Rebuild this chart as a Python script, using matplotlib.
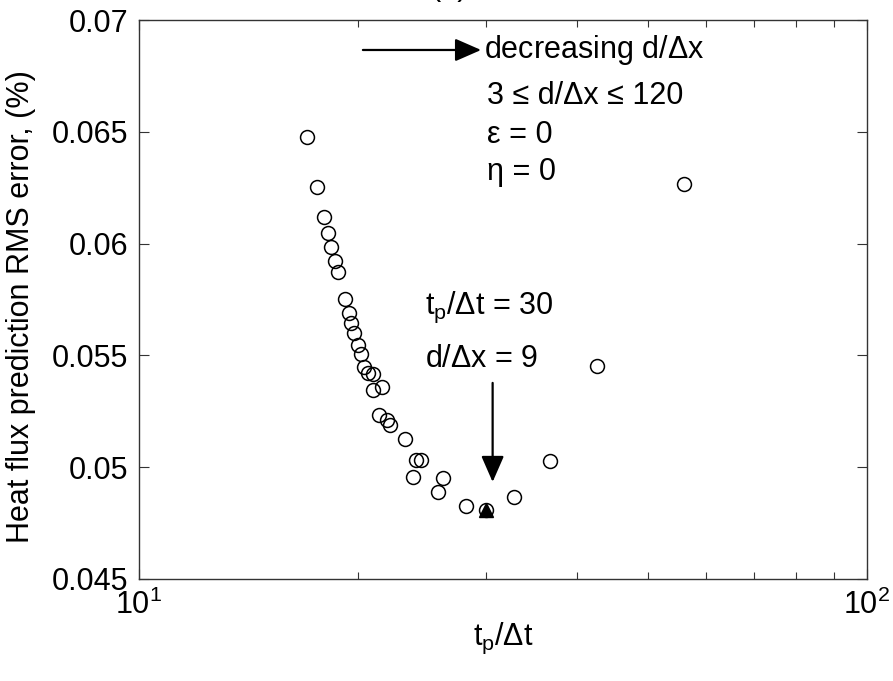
import matplotlib
matplotlib.use("Agg")
import matplotlib.pyplot as plt
from matplotlib.ticker import FixedLocator, FixedFormatter, LogLocator, NullFormatter

plt.rcParams['font.family'] = ['Liberation Sans', 'DejaVu Sans']
plt.rcParams['mathtext.fontset'] = 'custom'
plt.rcParams['mathtext.rm'] = 'Liberation Sans'
plt.rcParams['mathtext.it'] = 'Liberation Sans'
plt.rcParams['mathtext.default'] = 'regular'

# t_p/dt versus RMS error for each d/dx tested
tp_dt = [16.99, 17.58, 17.96, 18.19, 18.38, 18.57, 18.77, 19.17, 19.43, 19.57,
         19.74, 19.97, 20.18, 20.38, 20.65, 20.96, 21.57, 20.98, 21.38, 21.91,
         22.15, 23.20, 24.02, 24.38, 23.79, 26.18, 25.77, 28.16, 30.0, 32.79,
         36.73, 42.54, 56.11]
rms_err = [0.06479, 0.06255, 0.06118, 0.06046, 0.05986, 0.05922, 0.05872, 0.05754,
           0.05688, 0.05646, 0.05599, 0.05547, 0.05506, 0.05450, 0.05423, 0.05417,
           0.05360, 0.05345, 0.05234, 0.05211, 0.05187, 0.05128, 0.05032, 0.05032,
           0.04958, 0.04952, 0.04891, 0.04827, 0.04809, 0.04868, 0.05027, 0.05454,
           0.06265]

# optimum
best_tp = 30.0
best_err = 0.04809

yticks = [0.045, 0.05, 0.055, 0.06, 0.065, 0.07]
ytick_labels = ['0.045', '0.05', '0.055', '0.06', '0.065', '0.07']

FS = 22

fig = plt.figure(figsize=(8.93, 6.81), dpi=100)
ax = fig.add_axes([0.1557, 0.1498, 0.8152, 0.8208])

ax.plot(tp_dt, rms_err, 'o', mfc='none', mec='black', ms=10, mew=1.1)
ax.plot([best_tp], [best_err], '^', color='black', ms=10)

ax.set_xscale('log')
ax.set_xlim(10, 100)
ax.set_ylim(0.045, 0.07)
ax.yaxis.set_major_locator(FixedLocator(yticks))
ax.yaxis.set_major_formatter(FixedFormatter(ytick_labels))
ax.xaxis.set_minor_locator(LogLocator(base=10, subs=range(2, 10)))
ax.xaxis.set_minor_formatter(NullFormatter())

ax.tick_params(which='both', direction='in', top=True, right=True, labelsize=FS,
               color='#333333')
ax.tick_params(which='major', length=7, width=0.8, pad=8)
ax.tick_params(which='minor', length=5, width=0.8)
for s in ax.spines.values():
    s.set_linewidth(1.0)
    s.set_color('#333333')

ax.set_ylabel('Heat flux prediction RMS error, (%)', fontsize=FS)
ax.yaxis.set_label_coords(-0.142, 0.487)
ax.set_xlabel(r'$t_p/\Delta t$', fontsize=FS)
ax.xaxis.set_label_coords(0.5, -0.075)

arrow = dict(arrowstyle='-|>,head_length=1.6,head_width=0.7',
             color='black', lw=1.6, shrinkA=0, shrinkB=0)

# annotations
ax.annotate('', xy=(29.5, 0.06866), xytext=(20.3, 0.06866), arrowprops=arrow)
ax.text(29.8, 0.06866, r'decreasing d/$\Delta$x', fontsize=FS, va='center', ha='left')

ax.text(30.1, 0.06625, '3 \u2264 d/\u0394x \u2264 120', fontsize=FS, va='baseline')
ax.text(30.1, 0.06450, '\u03b5 = 0', fontsize=FS, va='baseline')
ax.text(30.1, 0.06283, '\u03b7 = 0', fontsize=FS, va='baseline')

ax.text(24.7, 0.05685, r'$t_p/\Delta t$ = 30', fontsize=FS, va='baseline')
ax.text(24.7, 0.05450, r'd/$\Delta$x = 9', fontsize=FS, va='baseline')

ax.annotate('', xy=(30.6, 0.04934), xytext=(30.6, 0.05377), arrowprops=arrow)

fig.text(449 / 893, 1.008, '(a)', fontsize=FS, ha='center', va='baseline')

fig.savefig('out.png', dpi=100)
